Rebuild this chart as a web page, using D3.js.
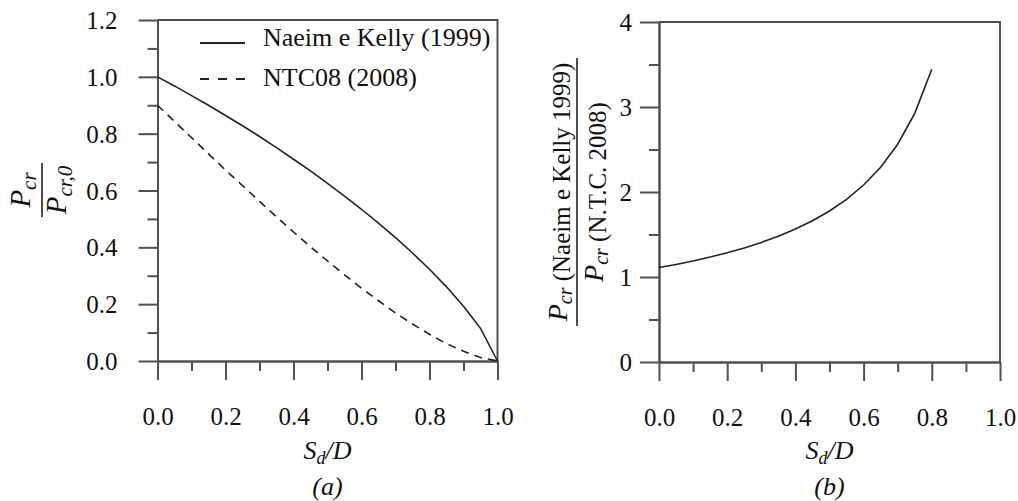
<!DOCTYPE html>
<html><head><meta charset="utf-8">
<script src="https://cdn.jsdelivr.net/npm/d3@7"></script>
<style>
body{margin:0;background:#fff}
</style>
</head><body>
<svg id="c" width="1018" height="501"></svg>
<script>
// ---- data ----
const sd = [0, 0.05, 0.10, 0.15, 0.20, 0.25, 0.30, 0.35, 0.40, 0.45, 0.50,
            0.55, 0.60, 0.65, 0.70, 0.75, 0.80, 0.85, 0.90, 0.95, 1.00];
const naeimKelly = [1.000, 0.968, 0.934, 0.900, 0.864, 0.828, 0.790, 0.751, 0.710, 0.669, 0.625,
                    0.580, 0.534, 0.485, 0.434, 0.380, 0.323, 0.261, 0.193, 0.115, 0.000];
const ntc08 = [0.900, 0.843, 0.786, 0.729, 0.672, 0.617, 0.562, 0.507, 0.454, 0.402, 0.352,
               0.303, 0.256, 0.212, 0.169, 0.130, 0.094, 0.061, 0.034, 0.012, 0.000];
const sdRatio = [0, 0.05, 0.10, 0.15, 0.20, 0.25, 0.30, 0.35, 0.40, 0.45, 0.50,
                 0.55, 0.60, 0.65, 0.70, 0.75, 0.80];
const ratio = [1.111, 1.148, 1.189, 1.235, 1.286, 1.342, 1.407, 1.480, 1.564, 1.662, 1.777,
               1.914, 2.082, 2.291, 2.562, 2.925, 3.444];

const xTicks = [0, 0.2, 0.4, 0.6, 0.8, 1.0];
const xMinor = [0.1, 0.3, 0.5, 0.7, 0.9];
const yTicksA = [0, 0.2, 0.4, 0.6, 0.8, 1.0, 1.2];
const yMinorA = [0.1, 0.3, 0.5, 0.7, 0.9, 1.1];
const yTicksB = [0, 1, 2, 3, 4];
const yMinorB = [0.5, 1.5, 2.5, 3.5];
const legendLabels = ["Naeim e Kelly (1999)", "NTC08 (2008)"];

// ---- drawing ----
const FONT = "'Liberation Serif', 'Times New Roman'";
const svg = d3.select("#c");
svg.append("rect").attr("width", 1018).attr("height", 501).attr("fill", "#fff");
const axisColor = "#505050";
const ink = "#111";

function txt(sel) {
  return sel.append("text").style("font-family", FONT).attr("fill", ink);
}

function panel(o) {
  const x = d3.scaleLinear().domain([0, 1]).range([o.x0, o.x1]);
  const y = d3.scaleLinear().domain(o.yDom).range([o.y0, o.y1]);
  const g = svg.append("g");

  // frame (top + right)
  g.append("path")
    .attr("d", `M${x(0)},${y(o.yDom[1])}H${x(1)}V${y(0)}`)
    .attr("fill", "none").attr("stroke", axisColor).attr("stroke-width", 2);

  // x axis
  const gx = g.append("g").attr("transform", `translate(0,${y(0)})`);
  gx.call(d3.axisBottom(x).tickValues(xTicks).tickSize(19).tickSizeOuter(0)
          .tickFormat(d3.format(".1f")));
  g.append("g").attr("transform", `translate(0,${y(0)})`)
    .call(d3.axisBottom(x).tickValues(xMinor).tickSize(10).tickSizeOuter(0).tickFormat(""));

  // y axis
  const gy = g.append("g").attr("transform", `translate(${x(0)},0)`);
  gy.call(d3.axisLeft(y).tickValues(o.yTicks).tickSize(19).tickSizeOuter(0)
          .tickPadding(o.yPad).tickFormat(o.yFmt));
  g.append("g").attr("transform", `translate(${x(0)},0)`)
    .call(d3.axisLeft(y).tickValues(o.yMinor).tickSize(10).tickSizeOuter(0).tickFormat(""));

  g.selectAll(".domain, .tick line").attr("stroke", axisColor).attr("stroke-width", 2);
  g.selectAll(".tick text").attr("font-size", 25).attr("fill", ink)
    .style("font-family", FONT);
  gx.selectAll(".tick text").attr("dy", null).attr("y", 64);
  gy.selectAll(".tick text").attr("dy", "0.34em");

  // x label
  const cx = (o.x0 + o.x1) / 2;
  const xl = txt(g).attr("x", cx).attr("y", 459)
    .attr("text-anchor", "middle").attr("font-size", 26).attr("font-style", "italic");
  xl.append("tspan").text("S");
  xl.append("tspan").attr("font-size", 18).attr("dy", 5).text("d");
  xl.append("tspan").attr("dy", -5).text("/D");

  txt(g).attr("x", cx).attr("y", 495).attr("text-anchor", "middle")
    .attr("font-size", 26).attr("font-style", "italic").text(o.tag);

  return {x, y, g};
}

// panel (a)
const A = panel({x0: 157.5, x1: 497.5, y0: 361, y1: 20, yDom: [0, 1.2],
  yTicks: yTicksA, yMinor: yMinorA, yPad: 21, yFmt: d3.format(".1f"), tag: "(a)"});

const lineA = d3.line().x((d, i) => A.x(sd[i])).y(d => A.y(d));
A.g.append("path").attr("d", lineA(naeimKelly)).attr("fill", "none")
  .attr("stroke", "#222").attr("stroke-width", 1.6);
A.g.append("path").attr("d", lineA(ntc08)).attr("fill", "none")
  .attr("stroke", "#222").attr("stroke-width", 1.6).attr("stroke-dasharray", "8,6");

// legend
[[43, null], [79, "9,9"]].forEach(([ly, dash], i) => {
  A.g.append("line").attr("x1", 200).attr("x2", 245).attr("y1", ly).attr("y2", ly)
    .attr("stroke", "#222").attr("stroke-width", 2).attr("stroke-dasharray", dash);
  txt(A.g).attr("x", 263).attr("y", ly + 3 + i * 4).attr("font-size", 26)
    .text(legendLabels[i]);
});

// y label (a)
const ya1 = txt(svg).attr("transform", "translate(30,190) rotate(-90)")
  .attr("text-anchor", "middle").attr("font-size", 29).attr("font-style", "italic");
ya1.append("tspan").text("P");
ya1.append("tspan").attr("font-size", 21).attr("dy", 6).text("cr");
svg.append("line").attr("x1", 42).attr("x2", 42).attr("y1", 163).attr("y2", 217)
  .attr("stroke", ink).attr("stroke-width", 1.5);
const ya2 = txt(svg).attr("transform", "translate(66,190) rotate(-90)")
  .attr("text-anchor", "middle").attr("font-size", 29).attr("font-style", "italic");
ya2.append("tspan").text("P");
ya2.append("tspan").attr("font-size", 21).attr("dy", 6).text("cr,0");

// panel (b)
const B = panel({x0: 659, x1: 1000, y0: 362, y1: 22, yDom: [0, 4],
  yTicks: yTicksB, yMinor: yMinorB, yPad: 8, yFmt: d3.format("d"), tag: "(b)"});
const lineB = d3.line().x((d, i) => B.x(sdRatio[i])).y(d => B.y(d));
B.g.append("path").attr("d", lineB(ratio)).attr("fill", "none")
  .attr("stroke", "#222").attr("stroke-width", 1.6);

// y label (b)
const yb1 = txt(svg).attr("transform", "translate(567,192) rotate(-90)")
  .attr("text-anchor", "middle").attr("font-size", 28).attr("font-style", "italic");
yb1.append("tspan").text("P");
yb1.append("tspan").attr("font-size", 20).attr("dy", 5).text("cr");
yb1.append("tspan").attr("font-style", "normal").attr("font-size", 25).attr("dy", -2)
  .text(" (Naeim e Kelly 1999)");
svg.append("line").attr("x1", 577).attr("x2", 577).attr("y1", 58).attr("y2", 326)
  .attr("stroke", ink).attr("stroke-width", 1.5);
const yb2 = txt(svg).attr("transform", "translate(603,192) rotate(-90)")
  .attr("text-anchor", "middle").attr("font-size", 28).attr("font-style", "italic");
yb2.append("tspan").text("P");
yb2.append("tspan").attr("font-size", 20).attr("dy", 5).text("cr");
yb2.append("tspan").attr("font-style", "normal").attr("font-size", 25).attr("dy", -2)
  .text(" (N.T.C. 2008)");
</script>
</body></html>
